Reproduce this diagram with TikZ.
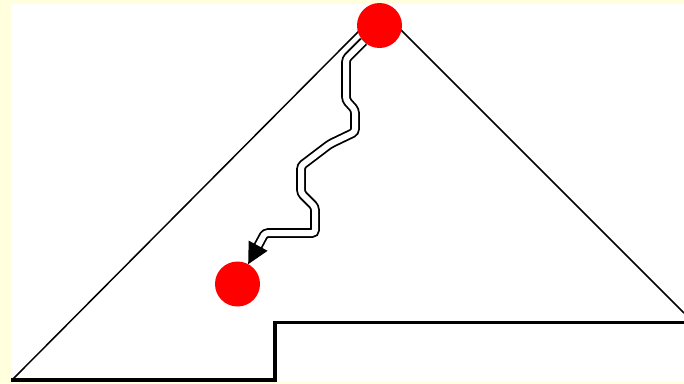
\documentclass[tikz,border=0pt]{standalone}
\usetikzlibrary{arrows.meta}
\definecolor{cream}{RGB}{255,255,221}
\begin{document}
\begin{tikzpicture}[x=1pt,y=-1pt,
  dot/.style={circle,fill=red,minimum size=45pt,inner sep=0pt,outer sep=0pt},
  edgeline/.style={line width=1.5pt},
  floor/.style={line width=3.5pt},
  flow/.style={double,line width=1.8pt,double distance=6pt,rounded corners=3pt,-{Triangle[length=21pt,width=21pt]}}]
\useasboundingbox (0,0) rectangle (684,383);
\fill[cream] (0,0) rectangle (684,383);
\fill[white] (11,4) rectangle (684,382);
\draw[edgeline] (13,379) -- (380.4,9.4) -- (684,313);
\draw[floor] (11,380.2) -- (275,380.2) -- (275,322.4) -- (684,322.4);
\node[dot] (a) at (379.5,25.5) {};
\node[dot] (b) at (237.5,284) {};
\draw[flow] (a.225) -- (346,59) -- (346,100) -- (355,110) -- (355,132) -- (330,144) -- (301,166) -- (301,193) -- (315,207) -- (315,233) -- (265,233) -- (b);
\end{tikzpicture}
\end{document}
